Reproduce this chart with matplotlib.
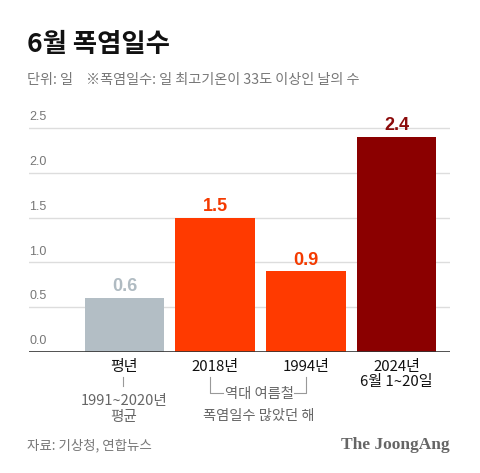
import matplotlib
matplotlib.use("Agg")
import matplotlib.pyplot as plt
from matplotlib.transforms import blended_transform_factory

plt.rcParams['font.family'] = ['Noto Sans CJK KR', 'DejaVu Sans']

categories = ['평년', '2018년', '1994년', '2024년\n6월 1~20일']
values = [0.6, 1.5, 0.9, 2.4]
value_labels = ['0.6', '1.5', '0.9', '2.4']
colors = ['#b3bec5', '#ff3a00', '#ff3a00', '#8b0000']
label_colors = ['#b0bbc2', '#f43a00', '#f43a00', '#8b0a0a']
yticks = [0.0, 0.5, 1.0, 1.5, 2.0, 2.5]

W, H = 480, 473
fig = plt.figure(figsize=(W / 100, H / 100), dpi=100)

def fx(px):
    return px / W

def fy(py):
    return 1 - py / H

ax_left, ax_right = 29, 450
ax_bottom, ax_top = 352, 110
ax = fig.add_axes([fx(ax_left), fy(ax_bottom), fx(ax_right - ax_left), (ax_bottom - ax_top) / H])
ax.set_ylim(0, 2.7)
ax.set_xlim(-1.053, 3.59)

x = list(range(len(values)))
ax.bar(x, values, width=0.877, color=colors, zorder=2)

for xi, v, lab, c in zip(x, values, value_labels, label_colors):
    ax.annotate(lab, (xi, v), xytext=(0, 2), textcoords='offset points',
                ha='center', va='bottom', fontsize=13, fontweight='bold', color=c,
                family=['Liberation Sans', 'DejaVu Sans'])

for t in yticks:
    if t > 0:
        ax.axhline(t, color='#dddddd', lw=1, zorder=1)
trans = blended_transform_factory(ax.transAxes, ax.transData)
for t in yticks:
    ax.annotate(f'{t:.1f}', (0, t), xycoords=trans, xytext=(0, 3.5), textcoords='offset points',
                ha='left', va='bottom', fontsize=9, color='#777777',
                family=['Liberation Sans', 'DejaVu Sans'])

ax.axhline(0, color='#333333', lw=1.2, zorder=3)
for s in ax.spines.values():
    s.set_visible(False)
ax.set_xticks([])
ax.set_yticks([])

# category labels
for xi, c in zip(x, categories):
    ax.annotate(c, (xi, 0), xytext=(0, -6), textcoords='offset points', ha='center', va='top',
                fontsize=10.8, color='#111111', linespacing=1.1)

# annotations below
fig.text(fx(124), fy(409), '1991~2020년\n평균', ha='center', va='center', fontsize=10.5,
         color='#666666', linespacing=1.15)
fig.add_artist(plt.Line2D([fx(123), fx(123)], [fy(377), fy(386)], color='#999999', lw=0.8))

fig.text(fx(259), fy(394), '역대 여름철', ha='center', va='center', fontsize=10.3, color='#666666')
fig.text(fx(259), fy(416), '폭염일수 많았던 해', ha='center', va='center', fontsize=10.3, color='#666666')
fig.add_artist(plt.Line2D([fx(210), fx(210), fx(223)], [fy(377), fy(393), fy(393)], color='#999999', lw=0.8))
fig.add_artist(plt.Line2D([fx(294), fx(306), fx(306)], [fy(393), fy(393), fy(377)], color='#999999', lw=0.8))

# titles
fig.text(fx(27), fy(44), '6월 폭염일수', ha='left', va='center', fontsize=19, fontweight='heavy', color='#111111')
fig.text(fx(27), fy(80), '단위: 일', ha='left', va='center', fontsize=10.2, color='#777777')
fig.text(fx(86), fy(80), '※폭염일수: 일 최고기온이 33도 이상인 날의 수', ha='left', va='center',
         fontsize=10.2, color='#777777')

fig.text(fx(27), fy(445), '자료: 기상청, 연합뉴스', ha='left', va='center', fontsize=9.7, color='#777777')
fig.text(fx(450), fy(445), 'The JoongAng', ha='right', va='center', fontsize=12.5, fontweight='bold',
         color='#666666', family='Liberation Serif')

fig.savefig('out.png', dpi=100, facecolor='white')
